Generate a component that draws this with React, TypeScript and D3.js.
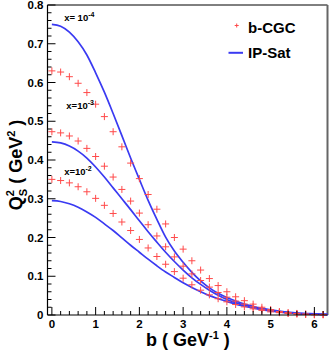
import * as d3 from "d3";

// IP-Sat curves (blue lines)
const bCurve = [0, 0.2, 0.4, 0.6, 0.8, 1.0, 1.2, 1.4, 1.6, 1.8, 2.0, 2.2, 2.4, 2.6, 2.8, 3.0, 3.2, 3.4, 3.6, 3.8, 4.0, 4.2, 4.4, 4.8, 5.2, 5.6, 6.0, 6.3];
const ipsatX4 = [0.750, 0.745, 0.730, 0.705, 0.671, 0.625, 0.575, 0.520, 0.463, 0.405, 0.350, 0.296, 0.247, 0.201, 0.165, 0.136, 0.110, 0.088, 0.070, 0.056, 0.045, 0.036, 0.028, 0.017, 0.010, 0.005, 0.003, 0.002];
const ipsatX3 = [0.447, 0.444, 0.436, 0.423, 0.405, 0.382, 0.356, 0.328, 0.300, 0.272, 0.243, 0.215, 0.188, 0.162, 0.138, 0.116, 0.096, 0.079, 0.064, 0.051, 0.040, 0.032, 0.025, 0.015, 0.008, 0.004, 0.002, 0.001];
const ipsatX2 = [0.295, 0.293, 0.287, 0.278, 0.266, 0.252, 0.235, 0.218, 0.199, 0.180, 0.162, 0.144, 0.127, 0.111, 0.097, 0.083, 0.071, 0.060, 0.050, 0.042, 0.035, 0.028, 0.023, 0.014, 0.008, 0.004, 0.002, 0.001];

// b-CGC points (red crosses)
const bPoints = [0, 0.2, 0.4, 0.6, 0.8, 1.0, 1.2, 1.4, 1.6, 1.8, 2.0, 2.2, 2.4, 2.6, 2.8, 3.0, 3.2, 3.4, 3.6, 3.8, 4.0, 4.2, 4.4, 4.6, 4.8, 5.0, 5.2, 5.4, 5.6, 5.8, 6.0, 6.2];
const cgcX4 = [0.630, 0.627, 0.615, 0.598, 0.574, 0.544, 0.512, 0.473, 0.434, 0.392, 0.352, 0.311, 0.273, 0.235, 0.200, 0.170, 0.140, 0.116, 0.094, 0.076, 0.060, 0.047, 0.037, 0.028, 0.020, 0.014, 0.009, 0.006, 0.004, 0.002, 0.001, 0.001];
const cgcX3 = [0.473, 0.470, 0.462, 0.449, 0.430, 0.409, 0.384, 0.356, 0.324, 0.294, 0.263, 0.233, 0.204, 0.176, 0.150, 0.126, 0.106, 0.089, 0.072, 0.058, 0.046, 0.036, 0.028, 0.021, 0.015, 0.011, 0.007, 0.005, 0.003, 0.002, 0.001, 0.001];
const cgcX2 = [0.350, 0.347, 0.341, 0.331, 0.318, 0.301, 0.283, 0.262, 0.240, 0.218, 0.195, 0.173, 0.151, 0.131, 0.112, 0.095, 0.078, 0.064, 0.052, 0.042, 0.034, 0.027, 0.021, 0.016, 0.012, 0.008, 0.006, 0.004, 0.003, 0.002, 0.001, 0.001];

const xMajor = [0, 1, 2, 3, 4, 5, 6];
const yMajor = [0, 0.1, 0.2, 0.3, 0.4, 0.5, 0.6, 0.7, 0.8];
const yLabels = ["0", "0.1", "0.2", "0.3", "0.4", "0.5", "0.6", "0.7", "0.8"];
const curveLabels = [
  { text: "x= 10", exp: "-4", b: 0.28, q: 0.76 },
  { text: "x=10", exp: "-3", b: 0.33, q: 0.532 },
  { text: "x=10", exp: "-2", b: 0.28, q: 0.361 },
];

const width = 332;
const height = 358;
const left = 47.5;
const right = 327.5;
const top = 5;
const bottom = 315;

const font = "'Liberation Sans', Arial, Helvetica, sans-serif";
const red = "#ff4a4a";
const blue = "#3a3af2";

export default function App() {
  const x = d3.scaleLinear().domain([-0.1, 6.3]).range([left, right]);
  const y = d3.scaleLinear().domain([0, 0.8]).range([bottom, top]);

  const line = d3.line<[number, number]>()
    .x(d => x(d[0]))
    .y(d => y(d[1]))
    .curve(d3.curveMonotoneX);

  const curves = [ipsatX4, ipsatX3, ipsatX2].map(vals => vals.map((v, i) => [bCurve[i], v] as [number, number]));
  const pts = [cgcX4, cgcX3, cgcX2].flatMap(vals => vals.map((v, i) => [bPoints[i], v]));

  const xMinor = d3.range(0, 32).map(i => i * 0.2);
  const yMinor = d3.range(0, 41).map(i => i * 0.02);

  const cross = (cx: number, cy: number, s: number, key: string | number) => (
    <g key={key} stroke={red} strokeWidth={1}>
      <line x1={cx - s} x2={cx + s} y1={cy} y2={cy} />
      <line x1={cx} x2={cx} y1={cy - s} y2={cy + s} />
    </g>
  );

  return (
    <svg width={width} height={height} style={{ position: "absolute", left: 0, top: 0, background: "#fff" }} fontFamily={font}>
      {/* frame */}
      <line x1={left} x2={right} y1={top} y2={top} stroke="#000" strokeWidth={1} />
      <line x1={right} x2={right} y1={top} y2={bottom} stroke="#666" strokeWidth={2} />

      {/* data */}
      {curves.map((c, i) => (
        <path key={i} d={line(c) ?? ""} fill="none" stroke={blue} strokeWidth={1.7} />
      ))}
      {pts.map((p, i) => cross(x(p[0]), y(p[1]), 3.5, i))}

      {/* axes */}
      <line x1={left} x2={right} y1={bottom} y2={bottom} stroke="#000" strokeWidth={1.2} />
      <line x1={left} x2={left} y1={top} y2={bottom} stroke="#000" strokeWidth={1.2} />
      {xMinor.map(t => (
        <line key={"xm" + t} x1={x(t)} x2={x(t)} y1={bottom} y2={bottom - (Math.abs(t - Math.round(t)) < 1e-6 ? 8 : 4)} stroke="#000" />
      ))}
      {yMinor.map((t, i) => (
        <line key={"ym" + t} x1={left} x2={left + (i % 5 === 0 ? 8 : 4)} y1={y(t)} y2={y(t)} stroke="#000" />
      ))}
      {xMajor.map(t => (
        <text key={"xl" + t} x={x(t)} y={bottom + 13} textAnchor="middle" fontSize={11.5} fontWeight="bold">{t}</text>
      ))}
      {yMajor.map((t, i) => (
        <text key={"yl" + t} x={left - 4} y={y(t) + 4} textAnchor="end" fontSize={11.5} fontWeight="bold">{yLabels[i]}</text>
      ))}

      {/* axis titles */}
      <text x={146} y={346} fontSize={18} fontWeight="bold">
        b ( GeV<tspan fontSize={11} dy={-7}>-1</tspan><tspan dy={7}> )</tspan>
      </text>
      <text transform="translate(22,165) rotate(-90)" textAnchor="middle" fontSize={18} fontWeight="bold">
        Q<tspan fontSize={11} dy={-8}>2</tspan><tspan fontSize={11} dx={-6} dy={13}>S</tspan><tspan dy={-5}> ( GeV</tspan><tspan fontSize={11} dy={-7}>2</tspan><tspan dy={7}> )</tspan>
      </text>

      {/* curve labels */}
      {curveLabels.map((l, i) => (
        <text key={"cl" + i} x={x(l.b)} y={y(l.q)} fontSize={9.5} fontWeight="bold">
          {l.text}<tspan fontSize={7} dy={-4}>{l.exp}</tspan>
        </text>
      ))}

      {/* legend */}
      {cross(236.7, 25.5, 2, "leg")}
      <text x={248} y={32.5} fontSize={15} fontWeight="bold">b-CGC</text>
      <line x1={228.5} x2={243} y1={52.8} y2={52.8} stroke={blue} strokeWidth={2} />
      <text x={248} y={58.3} fontSize={15} fontWeight="bold">IP-Sat</text>
    </svg>
  );
}
